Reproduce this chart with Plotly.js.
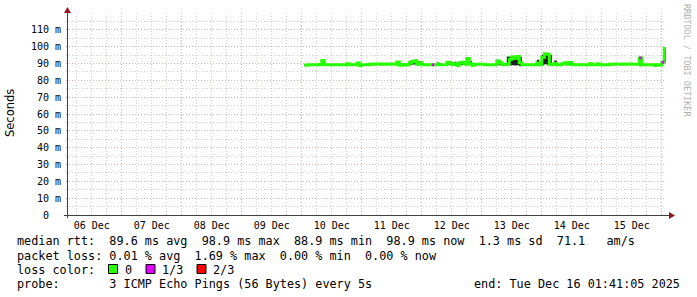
<!DOCTYPE html>
<html><head><meta charset="utf-8">
<script src="https://cdn.plot.ly/plotly-3.0.1.min.js"></script>
<style>html,body{margin:0;padding:0;background:#fff;}#chart{width:697px;height:297px;}</style>
</head><body><div id="chart"></div>
<script>
// ---- data ----
const firstSample = '2025-12-10T01:00:00';   // first sample time, one sample per hour
const rangeStart = '2025-12-06 01:41:05';
const rangeEnd = '2025-12-16 01:41:05';

const medianRtt = [
 89.0, 89.2, 89.2, 89.3, 89.2, 89.2, 89.4, 91.8, 89.2, 89.2,
 89.2, 89.2, 89.3, 89.2, 89.2, 89.2, 89.2, 89.8, 89.2, 89.2,
 89.2, 90.3, 89.0, 89.2, 89.2, 89.3, 89.6, 89.7, 89.6, 89.7,
 89.6, 89.7, 89.6, 89.7, 89.6, 89.7, 89.6, 90.9, 89.0, 89.4,
 89.1, 89.3, 90.5, 91.0, 91.6, 89.5, 90.4, 89.3, 89.2, 89.2,
 89.2, 89.2, 89.2, 89.5, 89.2, 89.2, 89.3, 90.7, 90.2, 89.4,
 89.8, 89.0, 90.4, 90.8, 89.5, 93.0, 89.8, 88.9, 89.6, 89.6,
 89.6, 89.5, 89.3, 89.2, 89.2, 89.2, 89.3, 91.5, 90.4, 89.4,
 89.2, 89.8, 92.5, 93.8, 93.0, 94.2, 90.5, 89.3, 89.2, 89.2,
 89.2, 89.2, 89.2, 90.3, 89.2, 93.5, 95.8, 95.5, 89.5, 89.2,
 90.0, 89.2, 89.3, 89.8, 90.4, 89.5, 90.6, 89.4, 89.2, 89.2,
 89.2, 89.2, 89.2, 89.2, 89.9, 89.2, 89.2, 89.9, 89.2, 89.2,
 89.2, 89.2, 89.6, 89.6, 89.7, 89.6, 89.6, 89.7, 89.6, 89.6,
 89.7, 89.6, 89.6, 89.6, 93.3, 89.2, 89.2, 89.3, 89.2, 89.2,
 89.0, 89.2, 89.1, 90.8, 98.9, 98.9
];
const smokeHigh = [
 89.4, 89.6, 89.6, 89.7, 89.6, 89.6, 89.8, 92.3, 89.6, 89.6,
 89.6, 89.6, 89.7, 89.6, 89.6, 89.6, 89.6, 90.2, 89.6, 89.6,
 89.6, 90.5, 89.5, 89.6, 89.6, 89.7, 90.1, 90.2, 90.0, 90.2,
 90.0, 90.2, 90.1, 90.2, 90.0, 90.2, 90.1, 91.2, 89.5, 89.8,
 89.5, 89.7, 91.7, 91.8, 92.0, 91.2, 91.4, 90.2, 89.6, 89.6,
 89.6, 89.6, 89.6, 90.6, 89.6, 89.6, 89.7, 91.0, 91.2, 90.4,
 91.0, 90.2, 91.2, 91.0, 90.6, 93.3, 91.5, 89.4, 90.0, 90.0,
 90.0, 89.9, 89.7, 89.6, 89.6, 89.6, 89.7, 92.2, 91.3, 90.4,
 89.6, 94.2, 94.0, 94.5, 94.6, 94.5, 93.8, 89.7, 89.6, 89.6,
 89.6, 89.6, 89.6, 92.3, 89.6, 95.2, 96.2, 96.0, 95.0, 89.6,
 91.8, 89.6, 89.7, 90.2, 90.7, 89.9, 90.8, 89.8, 89.6, 89.6,
 89.6, 89.6, 89.6, 89.6, 90.3, 89.6, 89.6, 90.3, 89.6, 89.6,
 89.6, 89.6, 90.0, 90.0, 90.1, 90.0, 90.0, 90.1, 90.0, 90.0,
 90.1, 90.0, 90.0, 90.0, 93.5, 89.6, 89.6, 89.7, 89.6, 89.6,
 89.4, 89.6, 89.5, 91.2, 99.2, 99.2
];
const smokeLow = [
 88.8, 88.9, 88.9, 89.0, 88.9, 88.9, 89.0, 88.6, 88.9, 88.9,
 88.9, 88.9, 89.0, 88.9, 88.9, 88.9, 88.9, 89.2, 88.9, 88.9,
 88.9, 89.4, 88.2, 88.9, 88.9, 89.0, 89.2, 89.2, 89.2, 89.2,
 89.2, 89.2, 89.2, 89.2, 89.2, 89.2, 89.2, 89.4, 88.7, 89.0,
 88.8, 89.0, 89.2, 89.4, 89.4, 89.0, 89.2, 89.0, 88.9, 88.9,
 88.9, 88.9, 88.9, 89.0, 88.9, 88.9, 89.0, 89.2, 89.2, 89.0,
 89.2, 88.4, 89.2, 89.3, 89.0, 89.0, 89.2, 88.3, 89.2, 89.2,
 89.2, 89.1, 89.0, 88.9, 88.9, 88.9, 89.0, 89.3, 89.2, 89.0,
 88.9, 89.0, 88.8, 89.0, 88.8, 89.0, 88.3, 89.0, 88.9, 88.9,
 88.9, 88.9, 88.9, 89.3, 88.9, 89.0, 89.5, 89.3, 89.0, 88.9,
 89.3, 88.9, 89.0, 89.3, 89.4, 89.1, 89.4, 89.0, 88.9, 88.9,
 88.9, 88.9, 88.9, 88.9, 89.3, 88.9, 88.9, 89.3, 88.9, 88.9,
 88.9, 88.9, 89.2, 89.2, 89.2, 89.2, 89.2, 89.2, 89.2, 89.2,
 89.2, 89.2, 89.2, 89.2, 88.3, 88.9, 88.9, 89.0, 88.9, 88.9,
 88.2, 88.9, 88.8, 90.3, 91.0, 91.0
];
// pings lost out of 3 per sample
const pingsLost = [
 0,0,0,0,0,0,0,0,0,0, 0,0,0,0,0,0,0,0,0,0, 0,0,0,0,0,0,0,0,0,0,
 0,0,0,0,0,0,0,0,0,0, 0,0,0,0,0,0,0,0,0,0, 0,1,0,0,0,0,0,0,0,0,
 0,0,0,0,0,0,0,0,0,0, 0,0,0,0,0,0,0,0,0,0, 0,0,0,0,0,0,0,0,0,0,
 0,0,0,0,0,0,0,0,0,0, 0,0,0,0,0,0,0,0,0,0, 0,0,0,0,0,0,0,0,0,0,
 0,0,0,0,0,0,0,0,0,0, 0,0,0,0,1,0,0,0,0,0, 0,0,0,1,0,0
];
const dayLabels = ['06 Dec','07 Dec','08 Dec','09 Dec','10 Dec','11 Dec','12 Dec','13 Dec','14 Dec','15 Dec'];
const dayCenters = ['2025-12-06 12:00','2025-12-07 12:00','2025-12-08 12:00','2025-12-09 12:00','2025-12-10 12:00',
                    '2025-12-11 12:00','2025-12-12 12:00','2025-12-13 12:00','2025-12-14 12:00','2025-12-15 12:00'];
const yTickVals = [0,10,20,30,40,50,60,70,80,90,100,110];
const yTickText = ['0\u00a0\u00a0','10 m','20 m','30 m','40 m','50 m','60 m','70 m','80 m','90 m','100 m','110 m'];
const lossLegend = [['0','#26ff00'],['1/3','#dd00ff'],['2/3','#ff0000']];
const statLines = [
 'median rtt:  89.6 ms avg  98.9 ms max  88.9 ms min  98.9 ms now  1.3 ms sd  71.1   am/s',
 'packet loss: 0.01 % avg  1.69 % max  0.00 % min  0.00 % now',
 'loss color:',
 'probe:       3 ICMP Echo Pings (56 Bytes) every 5s'
];
const endText = 'end: Tue Dec 16 01:41:05 2025';

// ---- build ----
function fmt(d){const p=n=>String(n).padStart(2,'0');
  return d.getUTCFullYear()+'-'+p(d.getUTCMonth()+1)+'-'+p(d.getUTCDate())+' '+p(d.getUTCHours())+':'+p(d.getUTCMinutes())+':00';}
const t0 = Date.parse(firstSample+'Z');
const times = medianRtt.map((_,i)=>fmt(new Date(t0+i*3600e3)));

const lossX=[], lossY=[];
pingsLost.forEach((v,i)=>{ if(v===1 && i+1<times.length){ lossX.push(times[i],times[i+1],null); lossY.push(medianRtt[i],medianRtt[i],null);} });

const L=66,T=13,PW=600,PH=202;
const px=x=>(x-L)/PW, py=y=>(T+PH-y)/PH;
const nb=s=>s.replace(/ /g,'\u00a0');
const MONO='DejaVu Sans Mono';
const GREEN='#26ff00', SMOKE='#1e1e1e';

const traces=[
 {x:times,y:smokeLow,type:'scatter',mode:'lines',line:{width:0,shape:'hv'},hoverinfo:'skip',showlegend:false},
 {x:times,y:smokeHigh,type:'scatter',mode:'lines',line:{width:0,shape:'hv'},fill:'tonexty',fillcolor:SMOKE,hoverinfo:'skip',showlegend:false},
 {x:times,y:medianRtt,type:'scatter',mode:'lines',line:{color:GREEN,width:3,shape:'hv'},showlegend:false},
 {x:lossX,y:lossY,type:'scatter',mode:'lines',line:{color:lossLegend[1][1],width:3},showlegend:false,connectgaps:false},
 {x:dayCenters,y:dayCenters.map(()=>null),xaxis:'x2',type:'scatter',mode:'none',showlegend:false,hoverinfo:'skip'}
];

const ann=[];
const rowsY=[241.5,255.5,269.5,283.5];
statLines.forEach((s,k)=>ann.push({xref:'paper',yref:'paper',x:px(15),y:py(rowsY[k]),xanchor:'left',yanchor:'middle',
  text:nb(s),showarrow:false,font:{family:MONO,size:11.8,color:'#000'}}));
ann.push({xref:'paper',yref:'paper',x:px(682),y:py(rowsY[3]),xanchor:'right',yanchor:'middle',text:nb(endText),showarrow:false,font:{family:MONO,size:11.8,color:'#000'}});
const boxX=[108.5,146,197], txtX=[123,160,211];
const shapes=[];
lossLegend.forEach((c,k)=>{
  shapes.push({type:'rect',xref:'paper',yref:'paper',x0:px(boxX[k]),x1:px(boxX[k]+9),y0:py(264.5),y1:py(273.5),fillcolor:c[1],line:{color:'#000',width:1}});
  ann.push({xref:'paper',yref:'paper',x:px(txtX[k]),y:py(rowsY[2]),xanchor:'left',yanchor:'middle',text:c[0],showarrow:false,font:{family:MONO,size:11.8,color:'#000'}});
});
ann.push({xref:'paper',yref:'paper',x:px(10),y:py(113),xanchor:'center',yanchor:'middle',textangle:-90,text:'Seconds',showarrow:false,font:{family:'DejaVu Sans',size:11.5,color:'#000'}});
ann.push({xref:'paper',yref:'paper',x:px(687),y:py(60),xanchor:'center',yanchor:'middle',textangle:90,text:nb('RRDTOOL / TOBI OETIKER'),showarrow:false,font:{family:MONO,size:8.5,color:'#b0b0b0'}});

// axis lines & arrows
shapes.push({type:'line',xref:'paper',yref:'paper',x0:px(64),x1:px(671),y0:py(215.5),y1:py(215.5),line:{color:'#404040',width:1},layer:'above'});
shapes.push({type:'line',xref:'paper',yref:'paper',x0:px(67.5),x1:px(67.5),y0:py(218),y1:py(11),line:{color:'#404040',width:1},layer:'above'});
shapes.push({type:'path',xref:'paper',yref:'paper',path:`M${px(669)},${py(212)} L${px(675)},${py(215.5)} L${px(669)},${py(219)} Z`,fillcolor:'#8b1a1a',line:{width:0},layer:'above'});
shapes.push({type:'path',xref:'paper',yref:'paper',path:`M${px(64)},${py(13)} L${px(67.5)},${py(7)} L${px(71)},${py(13)} Z`,fillcolor:'#8b1a1a',line:{width:0},layer:'above'});

const MGRID='#e6b0b0', GRID='#d2d2d2', DASH='1px,2px';
const layout={
  width:697,height:297,margin:{l:L,r:697-L-PW,t:T,b:297-T-PH},
  paper_bgcolor:'#fff',plot_bgcolor:'#fff',showlegend:false,
  xaxis:{type:'date',range:[rangeStart,rangeEnd],tickmode:'linear',tick0:'2025-12-07',dtick:86400000,showticklabels:false,ticks:'',
    showgrid:true,gridcolor:MGRID,griddash:DASH,gridwidth:1,zeroline:false,showline:false,
    minor:{tickmode:'linear',tick0:'2025-12-07',dtick:21600000,showgrid:true,gridcolor:GRID,griddash:DASH,gridwidth:1,ticks:''}},
  xaxis2:{type:'date',overlaying:'x',anchor:'y',side:'bottom',range:[rangeStart,rangeEnd],tickmode:'array',tickvals:dayCenters,ticktext:dayLabels,
    showgrid:false,zeroline:false,showline:false,ticks:'',ticklabelstandoff:3,tickfont:{family:MONO,size:10,color:'#000'}},
  yaxis:{range:[0,120],tickmode:'array',tickvals:yTickVals,ticktext:yTickText,ticks:'',ticklabelstandoff:4,
    tickfont:{family:MONO,size:10,color:'#000'},showgrid:true,gridcolor:MGRID,griddash:DASH,gridwidth:1,zeroline:false,showline:false,
    minor:{tickmode:'linear',tick0:0,dtick:5,showgrid:true,gridcolor:GRID,griddash:DASH,gridwidth:1,ticks:''}},
  annotations:ann,shapes:shapes
};
Plotly.newPlot('chart',traces,layout,{staticPlot:true,displayModeBar:false});
</script></body></html>
